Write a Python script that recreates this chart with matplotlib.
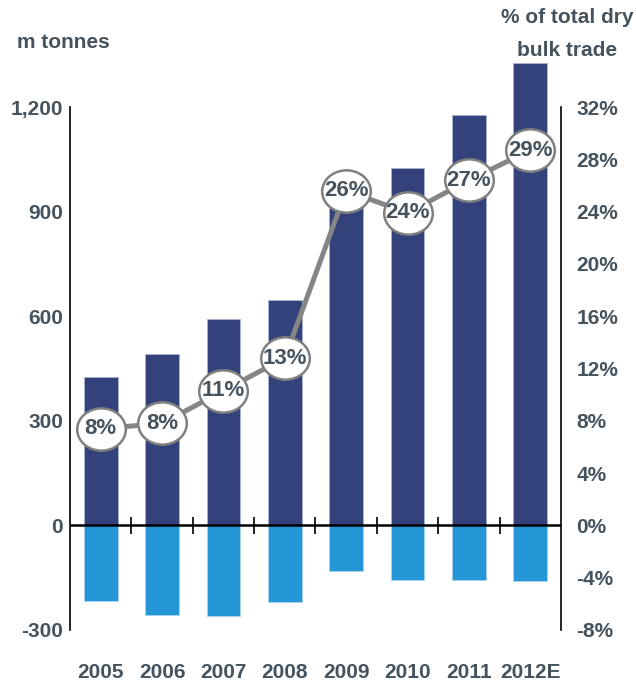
import numpy as np
import matplotlib.pyplot as plt
from matplotlib.path import Path
from matplotlib.transforms import Affine2D

# data
years = ['2005', '2006', '2007', '2008', '2009', '2010', '2011', '2012E']
imports_pos = [426, 492, 592, 646, 996, 1025, 1177, 1326]
exports_neg = [-217, -257, -260, -219, -130, -156, -156, -159]
share_pct = [7.4, 7.8, 10.3, 12.8, 25.6, 23.9, 26.4, 28.7]
share_labels = ['8%', '8%', '11%', '13%', '26%', '24%', '27%', '29%']

left_ticks = [-300, 0, 300, 600, 900, 1200]
right_ticks = [-8, -4, 0, 4, 8, 12, 16, 20, 24, 28, 32]

txt_color = '#44535e'
navy = '#33427b'
light_blue = '#2596d6'

plt.rcParams['font.family'] = ['Liberation Sans', 'DejaVu Sans']
plt.rcParams['font.weight'] = 'bold'

fig = plt.figure(figsize=(6.36, 6.83), dpi=100)
ax = fig.add_axes([0.110, 0.0776, 0.772, 0.7657])
x = np.arange(len(years))

ax.bar(x, imports_pos, width=0.55, color=navy, edgecolor='#aab4d8', linewidth=0.6, clip_on=False, zorder=2)
ax.bar(x, exports_neg, width=0.55, color=light_blue, edgecolor='#a8d4f0', linewidth=0.6, zorder=2)

ax.set_xlim(-0.5, len(years) - 0.5)
ax.set_ylim(-300, 1200)
ax.set_yticks(left_ticks)
ax.set_yticklabels([f'{v:,}' for v in left_ticks])
ax.tick_params(axis='y', length=0, pad=5, labelsize=15, labelcolor=txt_color)
ax.set_xticks(x)
ax.set_xticklabels(years)
ax.tick_params(axis='x', length=0, pad=24, labelsize=15, labelcolor=txt_color)
for s in ['top', 'right', 'bottom']:
    ax.spines[s].set_visible(False)
ax.spines['left'].set_linewidth(1.2)

# zero line with category boundary ticks
ax.axhline(0, color='black', lw=1.8, zorder=3)
ax.vlines(x[:-1] + 0.5, -24, 24, color='black', lw=1.2, zorder=3)

ax2 = ax.twinx()
ax2.set_ylim(-8, 32)
ax2.set_yticks(right_ticks)
ax2.set_yticklabels([f'{v}%' for v in right_ticks])
ax2.tick_params(axis='y', length=0, pad=11, labelsize=15, labelcolor=txt_color)
for s in ['top', 'left', 'bottom']:
    ax2.spines[s].set_visible(False)
ax2.spines['right'].set_linewidth(1.2)

ellipse = Path.unit_circle().transformed(Affine2D().scale(1.0, 0.87))
ax2.plot(x, share_pct, color='#858585', lw=3.6, zorder=4, solid_capstyle='butt')
ax2.plot(x, share_pct, linestyle='none', marker=ellipse, markersize=35,
         markerfacecolor='white', markeredgecolor='#808080', markeredgewidth=1.8, zorder=5)
for xi, yi, lab in zip(x, share_pct, share_labels):
    ax2.text(xi, yi, lab, ha='center', va='center', fontsize=16, fontweight='bold',
             color=txt_color, zorder=6)

fig.text(17 / 636, 1 - 42 / 683, 'm tonnes', ha='left', va='center', fontsize=15,
         fontweight='bold', color=txt_color)
fig.text(567 / 636, 1 - 34 / 683, '% of total dry\nbulk trade', ha='center', va='center',
         fontsize=15, fontweight='bold', color=txt_color, linespacing=1.9)

fig.savefig('out.png', dpi=100)
